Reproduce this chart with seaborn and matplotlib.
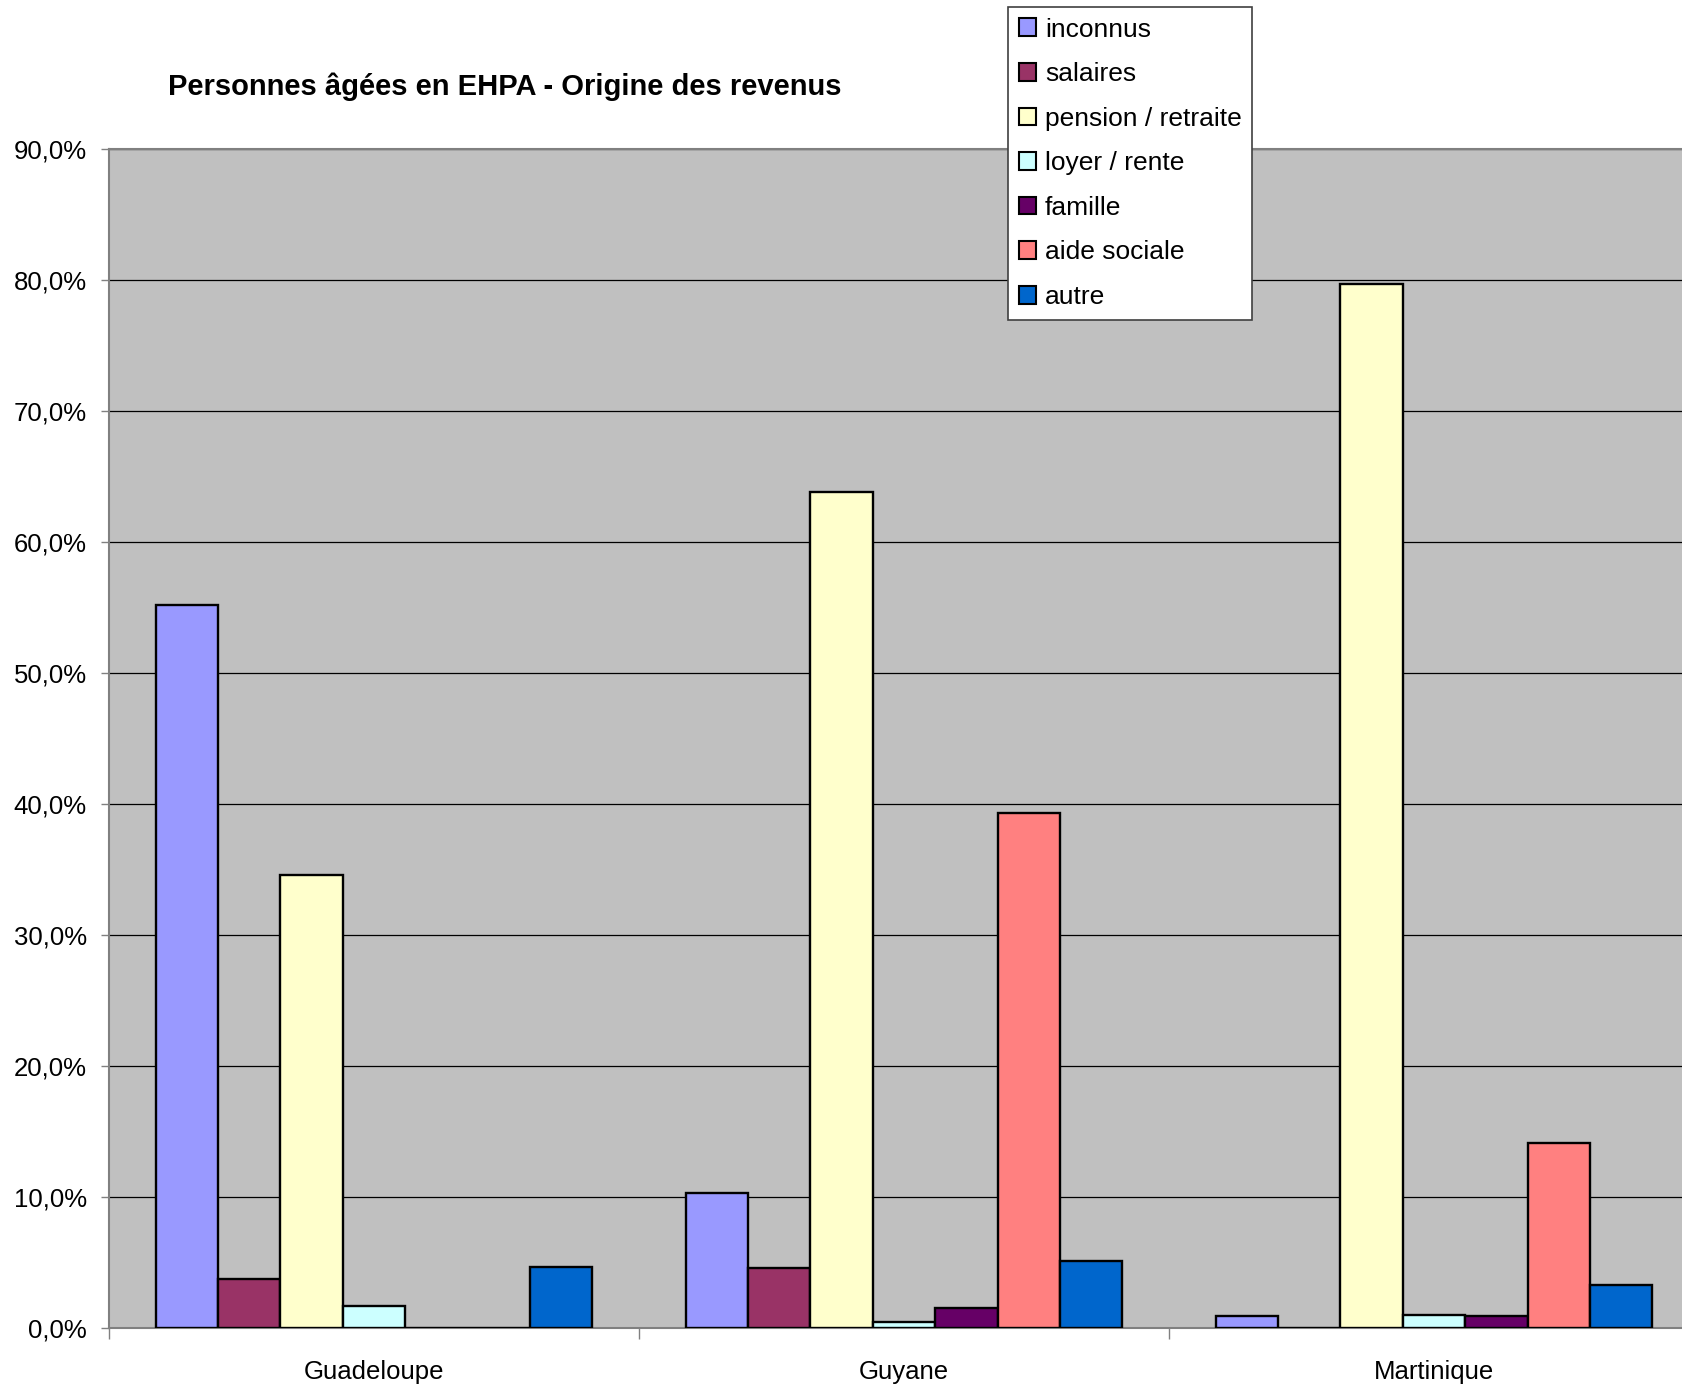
"""Personnes âgées en EHPA - origine des revenus (barres groupées)."""
import matplotlib

matplotlib.use("Agg")
import matplotlib.pyplot as plt
import pandas as pd
import seaborn as sns
from matplotlib.patches import Patch
from matplotlib.ticker import FuncFormatter, FixedLocator

regions = ["Guadeloupe", "Guyane", "Martinique"]
sources = ["inconnus", "salaires", "pension / retraite", "loyer / rente",
           "famille", "aide sociale", "autre"]
colors = ["#9999FF", "#993366", "#FFFFCC", "#CCFFFF", "#660066", "#FF8080", "#0066CC"]

# pourcentages, une liste par origine (Guadeloupe, Guyane, Martinique)
inconnus = [55.2, 10.3, 0.9]
salaires = [3.75, 4.6, 0.0]
pension = [34.6, 63.8, 79.7]
loyer = [1.65, 0.45, 1.0]
famille = [0.0, 1.5, 0.9]
aide_sociale = [0.0, 39.3, 14.1]
autre = [4.65, 5.1, 3.3]

values = [inconnus, salaires, pension, loyer, famille, aide_sociale, autre]
df = pd.DataFrame(
    [(r, s, v) for s, vals in zip(sources, values) for r, v in zip(regions, vals)],
    columns=["region", "source", "value"],
)

sns.set_style("white")
plt.rcParams["font.family"] = ["Liberation Sans", "DejaVu Sans"]
plt.rcParams["text.color"] = "black"
plt.rcParams["xtick.labelcolor"] = "black"
plt.rcParams["ytick.labelcolor"] = "black"

fig = plt.figure(figsize=(16.83, 13.89), dpi=100)
ax = fig.add_axes([109 / 1683, 61 / 1389, 1590 / 1683, 1179 / 1389])
ax.set_facecolor("#C0C0C0")

sns.barplot(
    data=df, x="region", y="value", hue="source",
    order=regions, hue_order=sources, palette=colors,
    width=7 / 8.5, saturation=1, edgecolor="black", linewidth=1.7,
    legend=False, ax=ax, zorder=3,
)

ax.set_ylim(0, 90)
ax.set_xlim(-0.5, 2.5)
ax.yaxis.set_major_locator(FixedLocator(range(0, 91, 10)))
ax.yaxis.set_major_formatter(FuncFormatter(lambda v, _: f"{v:.1f}%".replace(".", ",")))
ax.grid(axis="y", color="black", linewidth=0.9, zorder=1)
ax.set_axisbelow(True)
ax.set_xlabel("")
ax.set_ylabel("")

ax.tick_params(axis="y", which="major", left=True, length=6, width=1,
               color="#808080", pad=10, labelsize=18.5, labelcolor="black")
ax.tick_params(axis="x", which="major", bottom=False, length=0, pad=23,
               labelsize=18.5, labelcolor="black")
ax.xaxis.set_minor_locator(FixedLocator([-0.5, 0.5, 1.5, 2.5]))
ax.tick_params(axis="x", which="minor", bottom=True, length=8, width=1, color="#808080")

for side in ["left", "bottom", "top", "right"]:
    ax.spines[side].set_color("#808080")
    ax.spines[side].set_linewidth(1.5)

fig.text(505 / 1683, 1 - 87 / 1389, "Personnes âgées en EHPA - Origine des revenus",
         ha="center", va="center", fontsize=21, fontweight="bold", color="black")

handles = [Patch(facecolor=c, edgecolor="black", linewidth=1.5, label=s)
           for c, s in zip(colors, sources)]
leg = ax.legend(
    handles=handles, loc="upper left",
    bbox_to_anchor=(1008 / 1683, 1 - 7 / 1389), bbox_transform=fig.transFigure,
    fontsize=19, frameon=True, fancybox=False, borderaxespad=0,
    handlelength=0.65, handleheight=0.65, handletextpad=0.35,
    labelspacing=0.78, borderpad=0.4,
)
leg.get_frame().set_edgecolor("#404040")
leg.get_frame().set_linewidth(1.2)
leg.get_frame().set_facecolor("white")
leg.get_frame().set_alpha(1)
leg.set_zorder(10)

fig.savefig("out.png", dpi=100)
